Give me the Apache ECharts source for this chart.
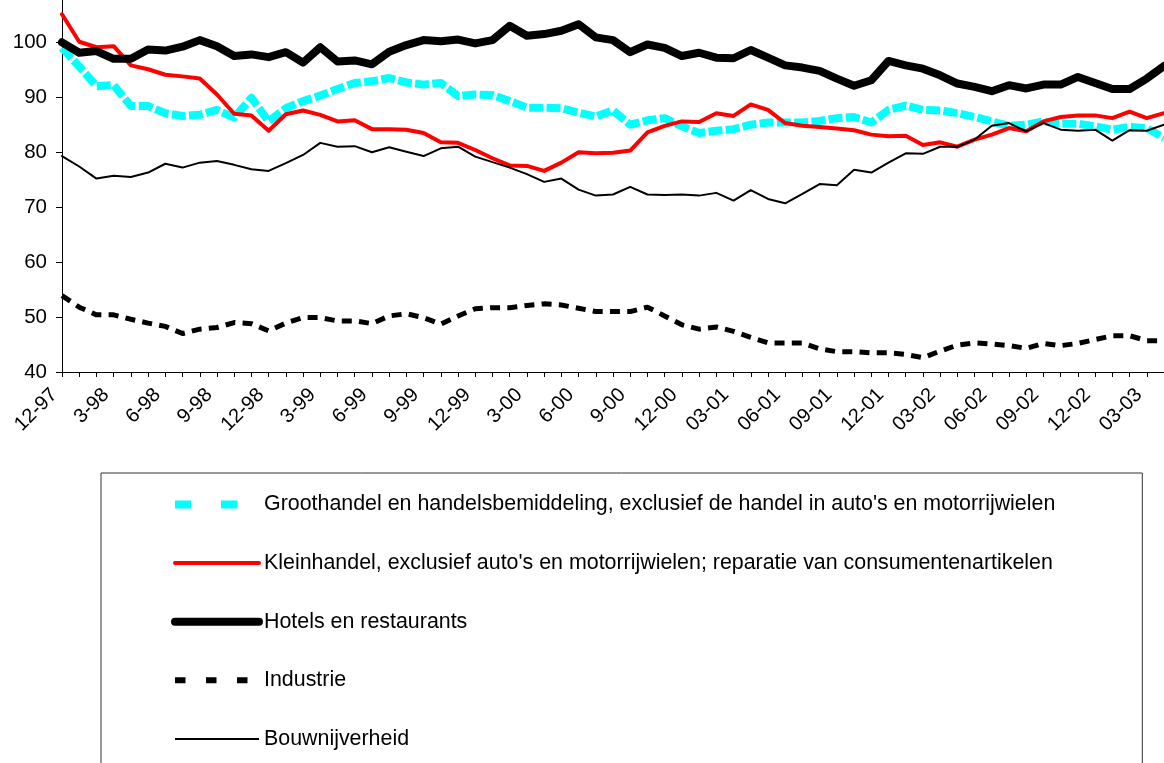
<!DOCTYPE html>
<html>
<head>
<meta charset="utf-8">
<script src="https://cdn.jsdelivr.net/npm/echarts@6/dist/echarts.min.js"></script>
<style>
html,body{margin:0;padding:0;background:#fff;}
#chart{width:1164px;height:763px;}
</style>
</head>
<body>
<div id="chart"></div>
<script>
const categories = [
  '12-97',
  '1-98','2-98','3-98','4-98','5-98','6-98','7-98','8-98','9-98','10-98','11-98','12-98',
  '1-99','2-99','3-99','4-99','5-99','6-99','7-99','8-99','9-99','10-99','11-99','12-99',
  '1-00','2-00','3-00','4-00','5-00','6-00','7-00','8-00','9-00','10-00','11-00','12-00',
  '01-01','02-01','03-01','04-01','05-01','06-01','07-01','08-01','09-01','10-01','11-01','12-01',
  '01-02','02-02','03-02','04-02','05-02','06-02','07-02','08-02','09-02','10-02','11-02','12-02',
  '01-03','02-03','03-03','04-03'
];

const seriesNames = [
  "Groothandel en handelsbemiddeling, exclusief de handel in auto's en motorrijwielen",
  "Kleinhandel, exclusief auto's en motorrijwielen; reparatie van consumentenartikelen",
  "Hotels en restaurants",
  "Industrie",
  "Bouwnijverheid"
];

const groothandel = [
  99.0, 95.6, 92.0, 92.2, 88.4, 88.4, 87.1, 86.6, 86.8, 87.7, 86.3, 89.9, 85.6,
  88.0, 89.3, 90.3, 91.5, 92.6, 92.9, 93.5, 92.7, 92.3, 92.6, 90.2, 90.5,
  90.4, 89.3, 88.1, 88.1, 88.0, 87.2, 86.5, 87.6, 85.0, 85.8, 86.2, 84.7,
  83.5, 83.9, 84.2, 85.0, 85.4, 85.4, 85.4, 85.7, 86.2, 86.4, 85.4, 87.7,
  88.5, 87.7, 87.6, 87.1, 86.4, 85.6, 84.8, 85.0, 85.6, 85.2, 85.2, 84.7,
  84.1, 84.6, 84.4, 82.6
];

const kleinhandel = [
  105.1, 100.1, 99.1, 99.3, 95.8, 95.1, 94.1, 93.8, 93.4, 90.5, 87.0, 86.7, 83.9,
  86.9, 87.6, 86.8, 85.6, 85.8, 84.2, 84.2, 84.1, 83.5, 81.8, 81.7, 80.4,
  78.9, 77.6, 77.5, 76.6, 78.1, 80.0, 79.8, 79.9, 80.3, 83.6, 84.8, 85.6,
  85.5, 87.1, 86.6, 88.7, 87.7, 85.3, 84.8, 84.6, 84.3, 84.0, 83.2, 82.9,
  83.0, 81.3, 81.8, 81.0, 82.3, 83.2, 84.4, 83.8, 85.6, 86.4, 86.7, 86.7,
  86.2, 87.4, 86.2, 87.1
];

const hotels = [
  100.0, 98.1, 98.4, 97.0, 97.0, 98.7, 98.5, 99.2, 100.4, 99.3, 97.5, 97.8, 97.3,
  98.2, 96.3, 99.1, 96.5, 96.7, 96.0, 98.3, 99.5, 100.4, 100.2, 100.5, 99.8,
  100.4, 103.0, 101.2, 101.5, 102.1, 103.3, 100.9, 100.4, 98.2, 99.6, 99.0, 97.5,
  98.1, 97.2, 97.1, 98.6, 97.2, 95.8, 95.4, 94.8, 93.4, 92.1, 93.1, 96.6,
  95.8, 95.2, 94.0, 92.5, 91.9, 91.1, 92.2, 91.6, 92.3, 92.3, 93.7, 92.6,
  91.5, 91.5, 93.4, 95.7
];

const industrie = [
  53.9, 51.8, 50.4, 50.4, 49.6, 48.9, 48.3, 47.0, 47.8, 48.1, 49.0, 48.8, 47.5,
  48.9, 49.9, 49.9, 49.3, 49.3, 48.8, 50.2, 50.6, 49.9, 48.7, 50.2, 51.5,
  51.7, 51.7, 52.1, 52.4, 52.2, 51.6, 51.0, 51.0, 51.0, 51.8, 50.2, 48.6,
  47.8, 48.2, 47.4, 46.3, 45.3, 45.3, 45.3, 44.2, 43.7, 43.7, 43.5, 43.5,
  43.2, 42.6, 43.8, 44.9, 45.3, 45.1, 44.8, 44.3, 45.2, 44.8, 45.2, 45.9,
  46.6, 46.6, 45.7, 45.7
];

const bouwnijverheid = [
  79.3, 77.4, 75.2, 75.7, 75.5, 76.3, 77.9, 77.2, 78.1, 78.4, 77.7, 76.9, 76.6,
  78.0, 79.5, 81.7, 81.0, 81.1, 80.0, 80.9, 80.1, 79.3, 80.7, 81.0, 79.2,
  78.2, 77.2, 76.0, 74.6, 75.2, 73.2, 72.1, 72.3, 73.7, 72.3, 72.2, 72.3,
  72.1, 72.6, 71.2, 73.1, 71.5, 70.7, 72.4, 74.2, 74.0, 76.8, 76.3, 78.1,
  79.8, 79.7, 81.0, 81.0, 82.3, 84.8, 85.3, 83.8, 85.3, 84.1, 83.9, 84.1,
  82.1, 84.0, 83.9, 85.0
];

// y tick values shown on the (top-cropped) axis
const yTickValues = [40, 50, 60, 70, 80, 90, 100];
const yMin = 40, yMax = 107.7, yStep = 10;
const FONT = 'Liberation Sans, Arial, sans-serif';

const chart = echarts.init(document.getElementById('chart'), null, {renderer: 'canvas'});

function lineSeries(name, data, color, width, dash, z) {
  return {
    name: name,
    type: 'line',
    data: data,
    symbol: 'none',
    showSymbol: false,
    smooth: false,
    z: z,
    lineStyle: {color: color, width: width, type: dash || 'solid', cap: dash ? 'butt' : 'round', join: 'round'},
    itemStyle: {color: color},
    emphasis: {disabled: true}
  };
}

const legendStyles = [
  {color: '#00FFFF', width: 8, type: [16, 30], cap: 'butt'},
  {color: '#FF0000', width: 4, type: 'solid', cap: 'round'},
  {color: '#000000', width: 8, type: 'solid', cap: 'round'},
  {color: '#000000', width: 6, type: [10.5, 20.5], cap: 'butt'},
  {color: '#000000', width: 2, type: 'solid', cap: 'butt'}
];

chart.setOption({
  animation: false,
  backgroundColor: '#ffffff',
  grid: {left: 62, right: -2, top: 0, bottom: 391, containLabel: false},
  xAxis: {
    type: 'category',
    data: categories,
    boundaryGap: false,
    axisLine: {lineStyle: {color: '#000', width: 1}},
    axisTick: {show: true, interval: 0, length: 5, lineStyle: {color: '#000'}},
    axisLabel: {
      interval: 2,
      rotate: 45,
      margin: 12,
      padding: [0, 11, 0, 0],
      fontSize: 20,
      fontFamily: FONT,
      color: '#000'
    },
    splitLine: {show: false}
  },
  yAxis: {
    type: 'value',
    min: yMin,
    max: yMax,
    interval: yStep,
    axisLine: {show: true, lineStyle: {color: '#000', width: 1}},
    axisTick: {show: true, length: 6, lineStyle: {color: '#000'}, customValues: yTickValues},
    axisLabel: {
      fontSize: 20.5,
      fontFamily: FONT,
      color: '#000',
      margin: 15,
      customValues: yTickValues,
      formatter: function (v) { return v > 100 ? '' : String(v); }
    },
    splitLine: {show: false}
  },
  legend: {
    orient: 'vertical',
    left: 101,
    top: 473,
    height: 340,
    padding: [21, 87, 40, 70],
    itemWidth: 84,
    itemHeight: 14,
    itemGap: 37.6,
    borderColor: '#333',
    borderWidth: 1,
    itemStyle: {opacity: 0},
    textStyle: {fontSize: 21.4, fontFamily: FONT, color: '#000'},
    data: seriesNames.map(function (n, i) {
      return {name: n, lineStyle: legendStyles[i], itemStyle: {opacity: 0}};
    }),
    selectedMode: false
  },
  series: [
    lineSeries(seriesNames[0], groothandel, '#00FFFF', 8, [14, 3.3], 2),
    lineSeries(seriesNames[1], kleinhandel, '#FF0000', 4, null, 3),
    lineSeries(seriesNames[2], hotels, '#000000', 8, null, 4),
    lineSeries(seriesNames[3], industrie, '#000000', 5, [10, 7.25], 5),
    lineSeries(seriesNames[4], bouwnijverheid, '#000000', 2, null, 6)
  ]
});
</script>
</body>
</html>
